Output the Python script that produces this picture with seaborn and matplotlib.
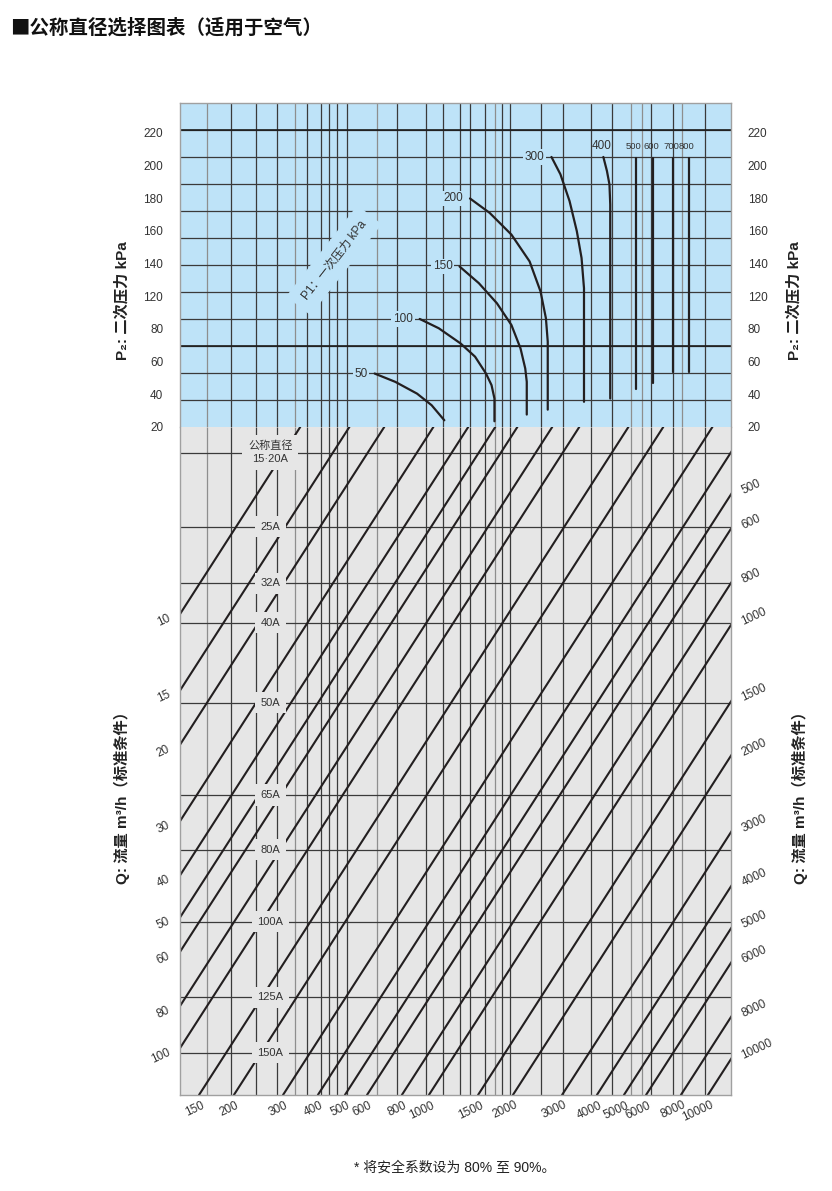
import numpy as np
import pandas as pd
import matplotlib
matplotlib.use("Agg")
import matplotlib.pyplot as plt
from matplotlib.ticker import NullLocator
import seaborn as sns

# 流量线 Q (m3/h)
flow_q = [10, 15, 20, 30, 40, 50, 60, 80, 100, 150, 200, 300, 400, 500, 600,
          800, 1000, 1500, 2000, 3000, 4000, 5000, 6000, 8000, 10000]
left_q = [10, 15, 20, 30, 40, 50, 60, 80, 100]
bottom_q = [150, 200, 300, 400, 500, 600, 800, 1000, 1500, 2000, 3000,
            4000, 5000, 6000, 8000, 10000]
right_q = [500, 600, 800, 1000, 1500, 2000, 3000, 4000, 5000, 6000, 8000, 10000]

# 公称直径横线 (下部纵轴系数)
dn_labels = ["公称直径\n15·20A", "25A", "32A", "40A", "50A", "65A", "80A",
             "100A", "125A", "150A"]
dn_k = [30.2, 20.4, 15.1, 12.25, 8.02, 4.91, 3.67, 2.51, 1.68, 1.25]

# P2 刻度
p2_labels = [20, 40, 60, 80, 120, 140, 160, 180, 200, 220]

# 竖向网格 (横轴位置)
vgrid_dark = [195, 240, 285, 365, 410, 440, 470, 510, 770, 980, 1120, 1290,
              1400, 1590, 1830, 1950, 2520, 3030, 3810, 4530, 6250, 7500, 9770]
vgrid_light = [160, 330, 650, 1730, 5300, 5800, 8080]

# 一次压力 P1 曲线: 横轴位置 / P2 读数
p1_50_u = [639, 758, 907, 1023, 1136]
p1_50_p2 = [52.7, 47.6, 40.4, 33.3, 24.1]
p1_100_u = [927, 1085, 1299, 1464, 1602, 1677, 1718, 1718]
p1_100_p2 = [86.1, 80.4, 71.1, 63.0, 52.7, 45.6, 37.4, 23.5]
p1_150_u = [1288, 1510, 1753, 1976, 2130, 2215, 2243, 2243]
p1_150_p2 = [118.2, 108.0, 95.7, 82.4, 68.1, 55.8, 47.6, 27.6]
p1_200_u = [1404, 1651, 1976, 2296, 2513, 2627, 2667, 2667]
p1_200_p2 = [159.8, 151.0, 137.7, 121.3, 102.9, 86.5, 72.2, 30.6]
p1_300_u = [2750, 2961, 3193, 3390, 3525, 3597, 3597]
p1_300_p2 = [185.2, 174.6, 158.2, 139.8, 123.4, 104.9, 35.4]
p1_400_u = [4220, 4347, 4438, 4467, 4467]
p1_400_p2 = [185.2, 176.6, 168.4, 156.1, 37.4]
p1_500_u = [5527, 5527]
p1_500_p2 = [184.8, 43.5]
p1_600_u = [6358, 6358]
p1_600_p2 = [184.8, 46.6]
p1_700_u = [7499, 7499]
p1_700_p2 = [184.8, 53.8]
p1_800_u = [8558, 8558]
p1_800_p2 = [184.8, 53.8]

BLUE_BG = "#BEE3F8"
GRAY_BG = "#E6E6E6"
LINE = "#231F20"
DARK_GRID = "#3A3A3A"
LIGHT_GRID = "#8E8E8E"
TXT = "#333333"

sns.set_theme(style="white")
plt.rcParams["font.family"] = ["Liberation Sans", "Noto Sans CJK SC", "DejaVu Sans"]
CJK = ["Noto Sans CJK SC", "DejaVu Sans"]

fig = plt.figure(figsize=(8.32, 11.91), dpi=100)
ax_top = fig.add_axes([0.2163, 0.6415, 0.6623, 0.2720])
ax_bot = fig.add_axes([0.2163, 0.0806, 0.6623, 0.5609])

u_min, u_max = 128.2, 12100
k_min, k_max = 1.0, 34.6
p_min, p_max = 20, 218.2

# ---------- 下部: 流量 / 公称直径 ----------
ax_bot.set_facecolor(GRAY_BG)
ax_bot.set_xscale("log")
ax_bot.set_yscale("log")
ax_bot.vlines(vgrid_dark, k_min, k_max, colors=DARK_GRID, lw=0.9, zorder=1)
ax_bot.vlines(vgrid_light, k_min, k_max, colors=LIGHT_GRID, lw=0.9, zorder=1)
ax_bot.hlines(dn_k, u_min, u_max, colors=DARK_GRID, lw=0.9, zorder=1)

diag = pd.DataFrame({"Q": np.repeat(flow_q, 2),
                     "K": np.tile([k_min, k_max], len(flow_q))})
diag["u"] = diag["Q"] * diag["K"]
sns.lineplot(data=diag, x="u", y="K", units="Q", estimator=None, sort=False,
             color=LINE, lw=1.5, ax=ax_bot, legend=False, zorder=2)

for lab, k in zip(dn_labels, dn_k):
    ax_bot.text(270, k, lab, ha="center", va="center", fontsize=8, color=TXT,
                linespacing=1.35, zorder=4,
                bbox=dict(boxstyle="square,pad=0.5", fc=GRAY_BG, ec="none"))

for q in left_q:
    ax_bot.annotate(str(q), xy=(u_min, u_min / q), xytext=(-7.5, -2.5),
                    textcoords="offset points", ha="right", va="center",
                    rotation=25, rotation_mode="anchor", fontsize=8.5,
                    color=TXT, annotation_clip=False)
for q in bottom_q:
    ax_bot.annotate(str(q), xy=(q, k_min), xytext=(1.5, -3),
                    textcoords="offset points", ha="right", va="top",
                    rotation=25, rotation_mode="anchor", fontsize=8.5,
                    color=TXT, annotation_clip=False)
for q in right_q:
    ax_bot.annotate(str(q), xy=(u_max, u_max / q), xytext=(8, 2),
                    textcoords="offset points", ha="left", va="center",
                    rotation=25, rotation_mode="anchor", fontsize=8.5,
                    color=TXT, annotation_clip=False)

ax_bot.set_xlim(u_min, u_max)
ax_bot.set_ylim(k_min, k_max)
ax_bot.set_xlabel("")
ax_bot.set_ylabel("")
for axis in (ax_bot.xaxis, ax_bot.yaxis):
    axis.set_major_locator(NullLocator())
    axis.set_minor_locator(NullLocator())

# ---------- 上部: 二次压力 / 一次压力 ----------
ax_top.set_facecolor(BLUE_BG)
ax_top.set_xscale("log")
ax_top.vlines(vgrid_dark, p_min, p_max, colors=DARK_GRID, lw=0.9, zorder=1)
ax_top.vlines(vgrid_light, p_min, p_max, colors=LIGHT_GRID, lw=0.9, zorder=1)
p2_grid = np.linspace(20, 201.6, 12)[1:]
ax_top.hlines(p2_grid, u_min, u_max, colors=DARK_GRID, lw=0.9, zorder=1)
ax_top.hlines([p2_grid[2], p2_grid[-1]], u_min, u_max, colors="#1E1E1E",
              lw=1.2, zorder=1)

curves = [(50, p1_50_u, p1_50_p2), (100, p1_100_u, p1_100_p2),
          (150, p1_150_u, p1_150_p2), (200, p1_200_u, p1_200_p2),
          (300, p1_300_u, p1_300_p2), (400, p1_400_u, p1_400_p2),
          (500, p1_500_u, p1_500_p2), (600, p1_600_u, p1_600_p2),
          (700, p1_700_u, p1_700_p2), (800, p1_800_u, p1_800_p2)]
p1_df = pd.concat([pd.DataFrame({"P1": v, "u": u, "p2": p})
                   for v, u, p in curves], ignore_index=True)
sns.lineplot(data=p1_df, x="u", y="p2", units="P1", estimator=None,
             sort=False, color=LINE, lw=1.6, ax=ax_top, legend=False, zorder=3)

for v, u, p in curves:
    if v <= 300:
        ax_top.annotate(str(v), xy=(u[0], p[0]), xytext=(-5, 0),
                        textcoords="offset points", ha="right", va="center",
                        fontsize=8.5, color=TXT, zorder=4,
                        bbox=dict(boxstyle="square,pad=0.15", fc=BLUE_BG, ec="none"))
    else:
        ax_top.annotate(str(v), xy=(u[0], p[0]), xytext=(-1.5, 8),
                        textcoords="offset points", ha="center", va="center",
                        fontsize=8.5 if v == 400 else 6.8, color=TXT, zorder=4)

ax_top.text(457, 122, "P1：一次压力 kPa", rotation=52, ha="center", va="center",
            rotation_mode="anchor", fontsize=8.5, color=TXT, zorder=4,
            bbox=dict(boxstyle="square,pad=0.8", fc=BLUE_BG, ec="none"))

ax_top.set_xlim(u_min, u_max)
ax_top.set_ylim(p_min, p_max)
ax_top.set_xlabel("")
ax_top.set_ylabel("")
ax_top.xaxis.set_major_locator(NullLocator())
ax_top.xaxis.set_minor_locator(NullLocator())
ax_top.set_yticks([20 + 20 * i for i in range(len(p2_labels))])
ax_top.set_yticklabels([str(v) for v in p2_labels])
ax_top.yaxis.set_minor_locator(NullLocator())
ax_top.tick_params(axis="y", left=False, right=False, labelleft=True,
                   labelright=True, pad=6, labelsize=8.5, labelcolor=TXT)

for ax in (ax_top, ax_bot):
    for sp in ax.spines.values():
        sp.set_color("#A0A0A0")
        sp.set_linewidth(1)
ax_top.spines["bottom"].set_visible(False)
ax_bot.spines["top"].set_visible(False)

# ---------- 文字 ----------
for x in (0.147, 0.955):
    fig.text(x, 0.748, "P₂: 二次压力 kPa", rotation=90, ha="center",
             va="center", fontsize=11, fontweight="bold", color="#222222",
             family=["Liberation Sans", "Noto Sans CJK SC", "DejaVu Sans"])
for x in (0.147, 0.961):
    fig.text(x, 0.333, "Q: 流量 m³/h（标准条件）", rotation=90, ha="center",
             va="center", fontsize=11, fontweight="bold", color="#222222",
             family=["Liberation Sans", "Noto Sans CJK SC", "DejaVu Sans"])

fig.text(0.012, 0.9765, "■公称直径选择图表（适用于空气）", ha="left",
         va="center", fontsize=14, fontweight="bold", color="#111111",
         family=CJK)
fig.text(0.547, 0.0193, "* 将安全系数设为 80% 至 90%。", ha="center",
         va="center", fontsize=10, color="#222222",
         family=["Liberation Sans", "Noto Sans CJK SC", "DejaVu Sans"])

fig.savefig("out.png", dpi=100)
